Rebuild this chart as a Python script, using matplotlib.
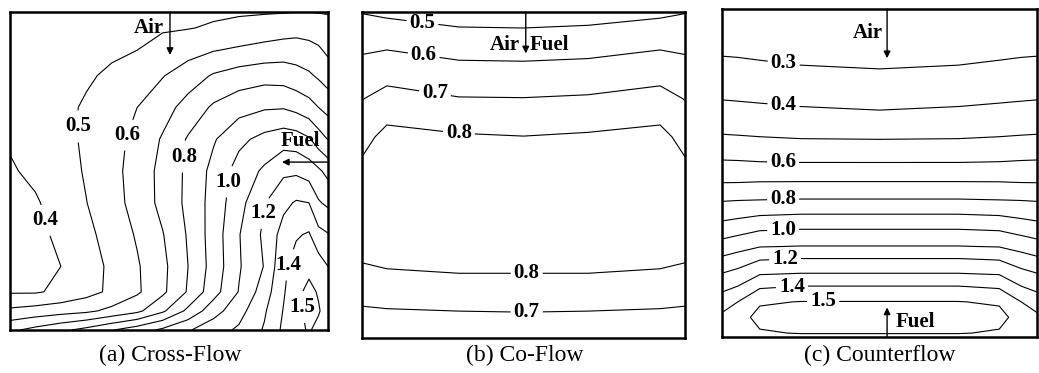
import matplotlib
matplotlib.use('Agg')
import matplotlib.pyplot as plt
import numpy as np

plt.rcParams['font.family'] = ['Liberation Serif', 'DejaVu Serif']

# grid positions (fraction of width, fraction of depth from the top) and field values

# (a) cross-flow
cross_x = [0, 0.08, 0.16, 0.24, 0.32, 0.40, 0.48, 0.56, 0.64, 0.72, 0.80, 0.86, 0.90, 0.94, 0.97, 1.0]
cross_y = [0, 0.05, 0.12, 0.2, 0.3, 0.4, 0.5, 0.6, 0.7, 0.8, 0.88, 0.94, 1.0]
cross_phi = [
    [0.45, 0.45, 0.455, 0.46, 0.465, 0.47, 0.475, 0.48, 0.485, 0.49, 0.493, 0.496, 0.499, 0.499, 0.497, 0.495],
    [0.45, 0.455, 0.46, 0.465, 0.47, 0.48, 0.49, 0.496, 0.51, 0.525, 0.54, 0.55, 0.56, 0.555, 0.545, 0.525],
    [0.44, 0.445, 0.455, 0.465, 0.48, 0.50, 0.535, 0.565, 0.595, 0.615, 0.635, 0.65, 0.65, 0.635, 0.615, 0.58],
    [0.43, 0.44, 0.455, 0.485, 0.52, 0.55, 0.595, 0.65, 0.71, 0.745, 0.763, 0.757, 0.736, 0.714, 0.686, 0.653],
    [0.42, 0.44, 0.47, 0.514, 0.555, 0.60, 0.66, 0.738, 0.815, 0.862, 0.889, 0.893, 0.871, 0.838, 0.80, 0.765],
    [0.41, 0.44, 0.47, 0.515, 0.565, 0.628, 0.71, 0.81, 0.89, 0.976, 1.03, 1.057, 1.047, 1.011, 0.947, 0.896],
    [0.39, 0.42, 0.455, 0.51, 0.57, 0.64, 0.73, 0.82, 0.93, 1.04, 1.117, 1.18, 1.182, 1.153, 1.117, 1.07],
    [0.37, 0.39, 0.44, 0.498, 0.562, 0.636, 0.729, 0.823, 0.939, 1.065, 1.195, 1.275, 1.31, 1.30, 1.21, 1.18],
    [0.35, 0.375, 0.42, 0.475, 0.54, 0.61, 0.695, 0.81, 0.945, 1.095, 1.22, 1.34, 1.39, 1.41, 1.33, 1.306],
    [0.34, 0.36, 0.40, 0.455, 0.52, 0.59, 0.675, 0.80, 0.94, 1.09, 1.205, 1.38, 1.44, 1.47, 1.45, 1.40],
    [0.39, 0.39, 0.42, 0.465, 0.52, 0.585, 0.68, 0.81, 0.96, 1.105, 1.25, 1.39, 1.47, 1.53, 1.49, 1.45],
    [0.52, 0.54, 0.56, 0.58, 0.625, 0.677, 0.783, 0.924, 1.059, 1.164, 1.288, 1.405, 1.47, 1.53, 1.51, 1.45],
    [0.68, 0.73, 0.78, 0.83, 0.895, 0.955, 1.02, 1.09, 1.16, 1.215, 1.31, 1.42, 1.47, 1.51, 1.47, 1.44],
]
cross_levels = [0.4, 0.5, 0.6, 0.7, 0.8, 0.9, 1.0, 1.1, 1.2, 1.3, 1.4, 1.5]

# (b) co-flow
co_x = [0, 0.077, 0.3, 0.5, 0.7, 0.923, 1.0]
co_y = [0, 0.051, 0.153, 0.265, 0.383, 0.5, 0.65, 0.809, 0.923, 1.0]
co_phi = [
    [0.496, 0.48, 0.455, 0.45, 0.46, 0.48, 0.496],
    [0.537, 0.534, 0.505, 0.502, 0.51, 0.534, 0.537],
    [0.618, 0.637, 0.605, 0.602, 0.61, 0.637, 0.618],
    [0.696, 0.733, 0.704, 0.702, 0.71, 0.733, 0.696],
    [0.767, 0.83, 0.81, 0.802, 0.812, 0.83, 0.767],
    [0.83, 0.845, 0.84, 0.84, 0.84, 0.845, 0.83],
    [0.83, 0.845, 0.84, 0.84, 0.84, 0.845, 0.83],
    [0.79, 0.793, 0.798, 0.798, 0.798, 0.793, 0.79],
    [0.68, 0.688, 0.695, 0.698, 0.695, 0.688, 0.68],
    [0.62, 0.625, 0.63, 0.635, 0.63, 0.625, 0.62],
]
co_levels = [0.5, 0.6, 0.7, 0.8]

# (c) counterflow
counter_x = [0, 0.05, 0.12, 0.25, 0.5, 0.75, 0.88, 0.95, 1.0]
counter_y = [0, 0.094, 0.188, 0.312, 0.400, 0.470, 0.528, 0.581, 0.627, 0.673,
             0.724, 0.762, 0.807, 0.846, 0.893, 0.94, 0.988, 1.0]
counter_phi = [
    [0.21, 0.20, 0.20, 0.20, 0.20, 0.20, 0.20, 0.20, 0.21],
    [0.265, 0.263, 0.259, 0.254, 0.25, 0.254, 0.259, 0.263, 0.265],
    [0.331, 0.328, 0.321, 0.310, 0.303, 0.310, 0.321, 0.328, 0.331],
    [0.427, 0.424, 0.42, 0.412, 0.403, 0.412, 0.42, 0.424, 0.427],
    [0.519, 0.516, 0.511, 0.505, 0.503, 0.505, 0.511, 0.516, 0.519],
    [0.613, 0.611, 0.606, 0.603, 0.603, 0.603, 0.606, 0.611, 0.613],
    [0.697, 0.698, 0.702, 0.703, 0.703, 0.703, 0.702, 0.698, 0.697],
    [0.791, 0.795, 0.798, 0.803, 0.803, 0.803, 0.798, 0.795, 0.791],
    [0.866, 0.877, 0.894, 0.903, 0.903, 0.903, 0.894, 0.877, 0.866],
    [0.947, 0.966, 0.994, 1.003, 1.003, 1.003, 0.994, 0.966, 0.947],
    [1.043, 1.065, 1.096, 1.103, 1.103, 1.103, 1.096, 1.065, 1.043],
    [1.116, 1.142, 1.192, 1.203, 1.203, 1.203, 1.192, 1.142, 1.116],
    [1.203, 1.231, 1.293, 1.303, 1.303, 1.303, 1.293, 1.231, 1.203],
    [1.269, 1.302, 1.386, 1.403, 1.403, 1.403, 1.386, 1.302, 1.269],
    [1.355, 1.40, 1.489, 1.503, 1.503, 1.503, 1.489, 1.40, 1.355],
    [1.42, 1.46, 1.53, 1.56, 1.56, 1.56, 1.53, 1.46, 1.42],
    [1.44, 1.47, 1.49, 1.505, 1.505, 1.505, 1.49, 1.47, 1.44],
    [1.44, 1.45, 1.46, 1.47, 1.47, 1.47, 1.46, 1.45, 1.44],
]
counter_levels = [0.3, 0.4, 0.5, 0.6, 0.7, 0.8, 0.9, 1.0, 1.1, 1.2, 1.3, 1.4, 1.5]

captions = ['(a) Cross-Flow', '(b) Co-Flow', '(c) Counterflow']

fig = plt.figure(figsize=(10.39, 3.73), dpi=100)
ax_a = fig.add_axes([0.00962, 0.1153, 0.3061, 0.8525])
ax_b = fig.add_axes([0.3484, 0.0938, 0.3109, 0.874])
ax_c = fig.add_axes([0.6949, 0.0965, 0.3032, 0.8794])

lab_font = dict(family='Liberation Serif', weight='bold', size=15)


def panel(ax, x, y, z, levels, lab_pos):
    cs = ax.contour(x, y, np.array(z), levels=levels, colors='black', linewidths=0.8)
    texts = ax.clabel(cs, fmt='%.1f', fontsize=15, inline=True, inline_spacing=3,
                      manual=lab_pos)
    for t in texts:
        t.set_rotation(0)
        t.set_fontweight('bold')
    ax.set_xlim(0, 1)
    ax.set_ylim(1, 0)
    ax.set_xticks([])
    ax.set_yticks([])
    for s in ax.spines.values():
        s.set_linewidth(1.8)
        s.set_color('black')


def arrow(ax, start, end):
    ax.annotate('', xy=end, xytext=start, xycoords='data',
                arrowprops=dict(arrowstyle='-|>', color='black', lw=1.0,
                                mutation_scale=10, shrinkA=0, shrinkB=0))


# (a)
panel(ax_a, cross_x, cross_y, cross_phi, cross_levels,
      [(0.116, 0.654), (0.211, 0.36), (0.371, 0.387), (0.56, 0.456),
       (0.701, 0.535), (0.796, 0.632), (0.88, 0.796), (0.918, 0.928)])
arrow(ax_a, (0.503, 0.0), (0.503, 0.135))
ax_a.text(0.485, 0.05, 'Air', ha='right', va='center', **lab_font)
arrow(ax_a, (1.0, 0.472), (0.855, 0.472))
ax_a.text(0.912, 0.405, 'Fuel', ha='center', va='center', **lab_font)

# (b)
panel(ax_b, co_x, co_y, co_phi, co_levels,
      [(0.186, 0.04), (0.19, 0.14), (0.226, 0.25), (0.30, 0.37),
       (0.51, 0.81), (0.51, 0.92)])
arrow(ax_b, (0.507, 0.0), (0.507, 0.127))
ax_b.text(0.49, 0.10, 'Air', ha='right', va='center', **lab_font)
ax_b.text(0.52, 0.10, 'Fuel', ha='left', va='center', **lab_font)

# (c)
panel(ax_c, counter_x, counter_y, counter_phi, counter_levels,
      [(0.194, 0.18), (0.194, 0.308), (0.194, 0.466), (0.194, 0.582),
       (0.194, 0.673), (0.2, 0.762), (0.222, 0.848), (0.321, 0.893)])
arrow(ax_c, (0.524, 0.0), (0.524, 0.15))
ax_c.text(0.51, 0.073, 'Air', ha='right', va='center', **lab_font)
arrow(ax_c, (0.524, 1.0), (0.524, 0.91))
ax_c.text(0.55, 0.954, 'Fuel', ha='left', va='center', **lab_font)

for xc, cap in zip([0.1636, 0.505, 0.847], captions):
    fig.text(xc, 0.048, cap, ha='center', va='center', fontsize=17)

fig.savefig('out.png', dpi=100)
